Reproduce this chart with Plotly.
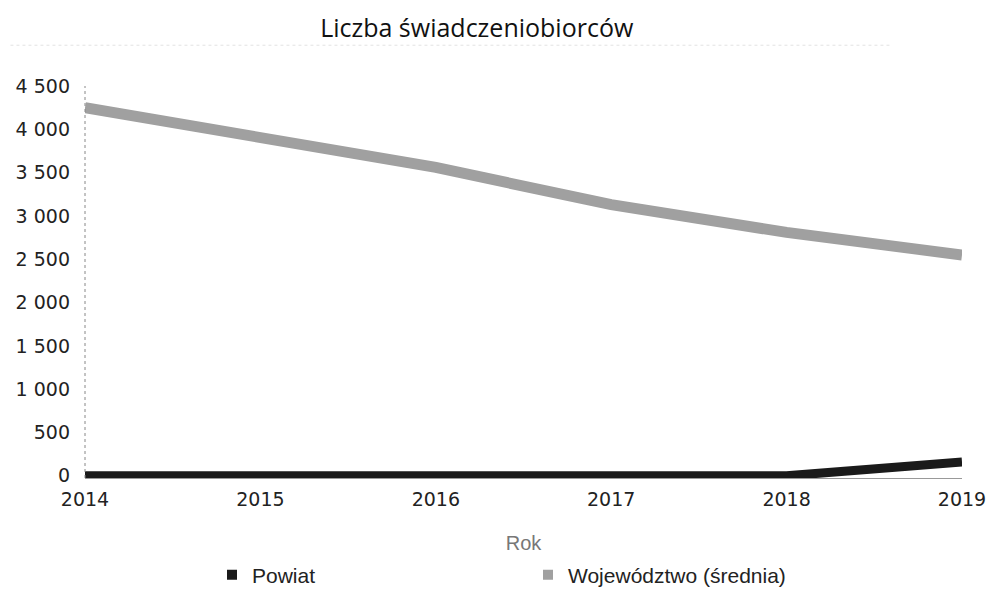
import plotly.graph_objects as go

years = [2014, 2015, 2016, 2017, 2018, 2019]
powiat = [0, 0, 0, 0, 0, 160]
wojewodztwo = [4250, 3920, 3560, 3130, 2810, 2550]
y_ticks = [0, 500, 1000, 1500, 2000, 2500, 3000, 3500, 4000, 4500]

series = [
    ("Powiat", powiat, "#1a1a1a", 9),
    ("Województwo (średnia)", wojewodztwo, "#a0a0a0", 11),
]

fig = go.Figure()
# wide grey line first, black on top
for name, vals, color, w in reversed(series):
    fig.add_trace(go.Scatter(x=years, y=vals, mode="lines", name=name,
                             line=dict(color=color, width=w),
                             showlegend=False, hoverinfo="x+y"))
# small square legend keys, like the original
for name, vals, color, w in series:
    fig.add_trace(go.Scatter(x=[None], y=[None], mode="markers", name=name,
                             marker=dict(symbol="square", size=10, color=color)))

# dotted left axis
fig.add_shape(type="line", xref="paper", yref="paper", x0=0, x1=0, y0=0, y1=1,
              line=dict(color="#888", width=1, dash="dot"))
# faint dotted rule under the title
fig.add_shape(type="line", xref="paper", yref="paper", x0=-0.085, x1=0.918,
              y0=1.104, y1=1.104, line=dict(color="#e2e2e2", width=1, dash="dot"))

fig.update_layout(
    width=987, height=606,
    paper_bgcolor="white", plot_bgcolor="white",
    margin=dict(l=85, r=25, t=86, b=128),
    separators=", ",
    font=dict(family="DejaVu Sans", size=20, color="#222"),
    title=dict(text="Liczba świadczeniobiorców", xref="container", x=0.483,
               xanchor="center", y=1 - 28 / 606, yanchor="middle",
               font=dict(family="Open Sans", size=25, color="#111")),
    xaxis=dict(range=[2014, 2019], tickvals=years, showgrid=False,
               zeroline=False, showline=True, linecolor="#999", linewidth=1,
               ticks="", automargin=False, ticklabelstandoff=4,
               ticklabeloverflow="allow",
               tickfont=dict(family="DejaVu Sans", size=19, color="#222"),
               title=dict(text="Rok", standoff=27,
                          font=dict(family="Liberation Sans", size=20, color="#777"))),
    yaxis=dict(range=[-25, 4500], tickvals=y_ticks,
               tickformat=",", showgrid=False, zeroline=False, showline=False,
               ticks="", automargin=False, ticklabelstandoff=14,
               tickfont=dict(family="DejaVu Sans", size=19, color="#222")),
    legend=dict(orientation="h", xref="container", yref="container",
                x=212 / 987, xanchor="left", y=1 - 575 / 606, yanchor="middle",
                entrywidth=271, entrywidthmode="pixels",
                font=dict(family="Liberation Sans", size=21, color="#222")),
)

fig.write_html("out.html", config={"displayModeBar": False},
               post_script="document.body.style.margin = '0';")
